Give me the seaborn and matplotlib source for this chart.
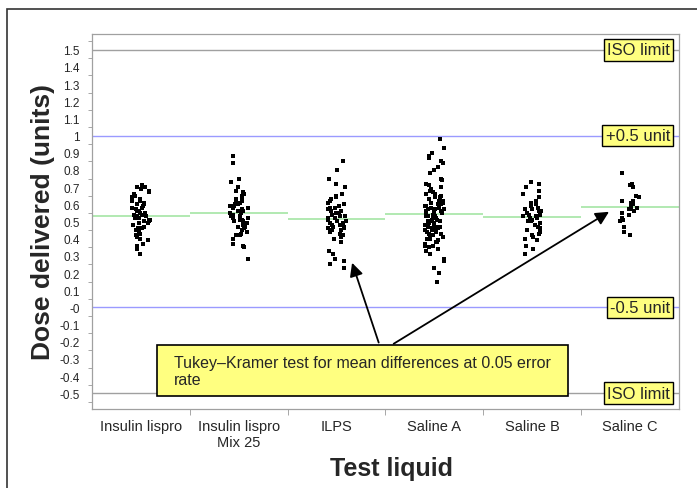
import numpy as np
import pandas as pd
import seaborn as sns
import matplotlib
matplotlib.use("Agg")
from matplotlib import pyplot as plt
from matplotlib.patches import Rectangle

# dose readings per test liquid (units)
insulin_lispro = [0.71, 0.70, 0.70, 0.69, 0.68, 0.67, 0.66, 0.65, 0.64, 0.63, 0.62, 0.62, 0.61, 0.60,
                  0.60, 0.59, 0.58, 0.58, 0.57, 0.56, 0.56, 0.55, 0.55, 0.54, 0.54, 0.53, 0.53, 0.52,
                  0.52, 0.51, 0.51, 0.50, 0.50, 0.49, 0.49, 0.48, 0.47, 0.46, 0.46, 0.45, 0.44, 0.43,
                  0.42, 0.41, 0.40, 0.39, 0.37, 0.36, 0.34, 0.31]
mix25 = [0.88, 0.84, 0.75, 0.73, 0.70, 0.68, 0.67, 0.66, 0.65, 0.64, 0.63, 0.62, 0.62, 0.61, 0.60,
         0.60, 0.59, 0.59, 0.58, 0.58, 0.57, 0.57, 0.56, 0.56, 0.55, 0.55, 0.55, 0.54, 0.54, 0.53,
         0.53, 0.53, 0.52, 0.52, 0.51, 0.51, 0.50, 0.50, 0.49, 0.49, 0.48, 0.47, 0.47, 0.46, 0.45,
         0.44, 0.43, 0.42, 0.42, 0.40, 0.37, 0.36, 0.35, 0.28]
ilps = [0.85, 0.80, 0.75, 0.72, 0.70, 0.66, 0.65, 0.64, 0.63, 0.62, 0.61, 0.60, 0.59, 0.58, 0.58,
        0.57, 0.56, 0.56, 0.55, 0.55, 0.54, 0.53, 0.53, 0.52, 0.52, 0.51, 0.51, 0.50, 0.50, 0.49,
        0.49, 0.48, 0.48, 0.47, 0.47, 0.46, 0.46, 0.45, 0.45, 0.44, 0.43, 0.42, 0.41, 0.40, 0.38,
        0.33, 0.31, 0.28, 0.27, 0.25, 0.23]
saline_a = [0.98, 0.93, 0.90, 0.88, 0.87, 0.85, 0.84, 0.82, 0.80, 0.78, 0.75, 0.74, 0.72, 0.71,
            0.70, 0.70, 0.69, 0.68, 0.67, 0.66, 0.66, 0.65, 0.64, 0.64, 0.63, 0.62, 0.62, 0.61,
            0.61, 0.60, 0.60, 0.59, 0.59, 0.58, 0.58, 0.57, 0.57, 0.57, 0.56, 0.56, 0.56, 0.55,
            0.55, 0.55, 0.54, 0.54, 0.54, 0.53, 0.53, 0.53, 0.52, 0.52, 0.52, 0.51, 0.51, 0.51,
            0.50, 0.50, 0.50, 0.50, 0.49, 0.49, 0.49, 0.48, 0.48, 0.48, 0.47, 0.47, 0.47, 0.46,
            0.46, 0.46, 0.45, 0.45, 0.45, 0.44, 0.44, 0.43, 0.43, 0.42, 0.42, 0.41, 0.40, 0.40,
            0.39, 0.38, 0.38, 0.37, 0.36, 0.36, 0.35, 0.34, 0.33, 0.31, 0.28, 0.27, 0.23, 0.20, 0.15]
saline_b = [0.73, 0.72, 0.70, 0.68, 0.66, 0.64, 0.62, 0.61, 0.60, 0.59, 0.58, 0.57, 0.57, 0.56,
            0.56, 0.55, 0.55, 0.54, 0.54, 0.53, 0.53, 0.52, 0.52, 0.51, 0.51, 0.50, 0.50, 0.49,
            0.48, 0.47, 0.46, 0.45, 0.44, 0.43, 0.42, 0.41, 0.40, 0.39, 0.36, 0.34, 0.31]
saline_c = [0.78, 0.72, 0.71, 0.70, 0.65, 0.64, 0.62, 0.62, 0.61, 0.60, 0.59, 0.58, 0.58, 0.57,
            0.57, 0.56, 0.55, 0.54, 0.52, 0.51, 0.50, 0.47, 0.44, 0.42]

liquids = ["Insulin lispro", "Insulin lispro\nMix 25", "ILPS", "Saline A", "Saline B", "Saline C"]
groups = [insulin_lispro, mix25, ilps, saline_a, saline_b, saline_c]

ref_levels = [1.5, 1.0, 0.0, -0.5]
ref_labels = ["ISO limit", "+0.5 unit", "-0.5 unit", "ISO limit"]
ref_colors = ["#a0a0a0", "#9a9aff", "#9a9aff", "#a0a0a0"]

df = pd.DataFrame({
    "liquid": [name for name, g in zip(liquids, groups) for _ in g],
    "dose": [v for g in groups for v in g],
})

sns.set_style("white")
plt.rcParams["font.family"] = ["Liberation Sans", "DejaVu Sans"]

fig = plt.figure(figsize=(6.97, 4.89), dpi=100)
ax = fig.add_axes([0.132, 0.162, 0.842, 0.766])

for lvl, col in zip(ref_levels, ref_colors):
    ax.axhline(lvl, color=col, lw=1, zorder=1)

# group means as green segments
for i, g in enumerate(groups):
    ax.hlines(np.mean(g), i - 0.5, i + 0.5, color="#9ce39c", lw=1.1, zorder=1)

np.random.seed(3)
sns.stripplot(data=df, x="liquid", y="dose", order=liquids, color="black", marker="s",
              size=2.6, linewidth=0, jitter=0.1, ax=ax, zorder=3)

ax.set_xlim(-0.5, 5.5)
ax.set_ylim(-0.59, 1.59)
yt = np.round(np.arange(-0.5, 1.51, 0.1), 2)
ax.set_yticks(yt, [f"{v:g}" for v in yt])
ax.set_yticks(np.arange(-0.55, 1.56, 0.05), minor=True)
ax.set_xticks(range(6), liquids)
ax.set_xticks([0.5, 1.5, 2.5, 3.5, 4.5], minor=True)
ax.tick_params(axis="y", which="major", length=5, color="#999999", labelsize=8.5, pad=4)
ax.tick_params(axis="y", which="minor", length=3, color="#999999", left=True)
ax.tick_params(axis="x", which="major", length=0, labelsize=10.5, pad=7)
ax.tick_params(axis="x", which="minor", length=4, color="#999999", bottom=True)
for s in ax.spines.values():
    s.set_color("#a0a0a0")
    s.set_linewidth(0.9)

ax.set_xlabel("Test liquid", fontsize=18, fontweight="bold", labelpad=5)
ax.xaxis.set_label_coords(0.51, -0.125)
ax.set_ylabel("Dose delivered (units)", fontsize=19, fontweight="bold", labelpad=3)

for lvl, lab in zip(ref_levels, ref_labels):
    ax.text(0.985, lvl, lab, transform=ax.get_yaxis_transform(), ha="right", va="center",
            fontsize=12, zorder=5,
            bbox=dict(boxstyle="square,pad=0.2", fc="#ffff80", ec="black", lw=1))

# note box with arrows
ax.annotate("", xy=(2.15, 0.275), xytext=(2.44, -0.22),
            arrowprops=dict(arrowstyle="-|>", color="black", lw=1.3, mutation_scale=20), zorder=4)
ax.annotate("", xy=(4.81, 0.565), xytext=(2.56, -0.22),
            arrowprops=dict(arrowstyle="-|>", color="black", lw=1.3, mutation_scale=20), zorder=4)
ax.add_patch(Rectangle((0.165, -0.513), 4.2, 0.295, fc="#ffff80", ec="black", lw=1.2, zorder=5))
ax.text(0.34, -0.37, "Tukey\u2013Kramer test for mean differences at 0.05 error\nrate",
        ha="left", va="center", fontsize=11.5, linespacing=1.1, zorder=6)

fig.add_artist(Rectangle((7 / 697, -0.1), 1.2, 1 - 10 / 489 + 0.1, transform=fig.transFigure,
                         fill=False, ec="#333333", lw=1.2))

fig.savefig("out.png", dpi=100)
